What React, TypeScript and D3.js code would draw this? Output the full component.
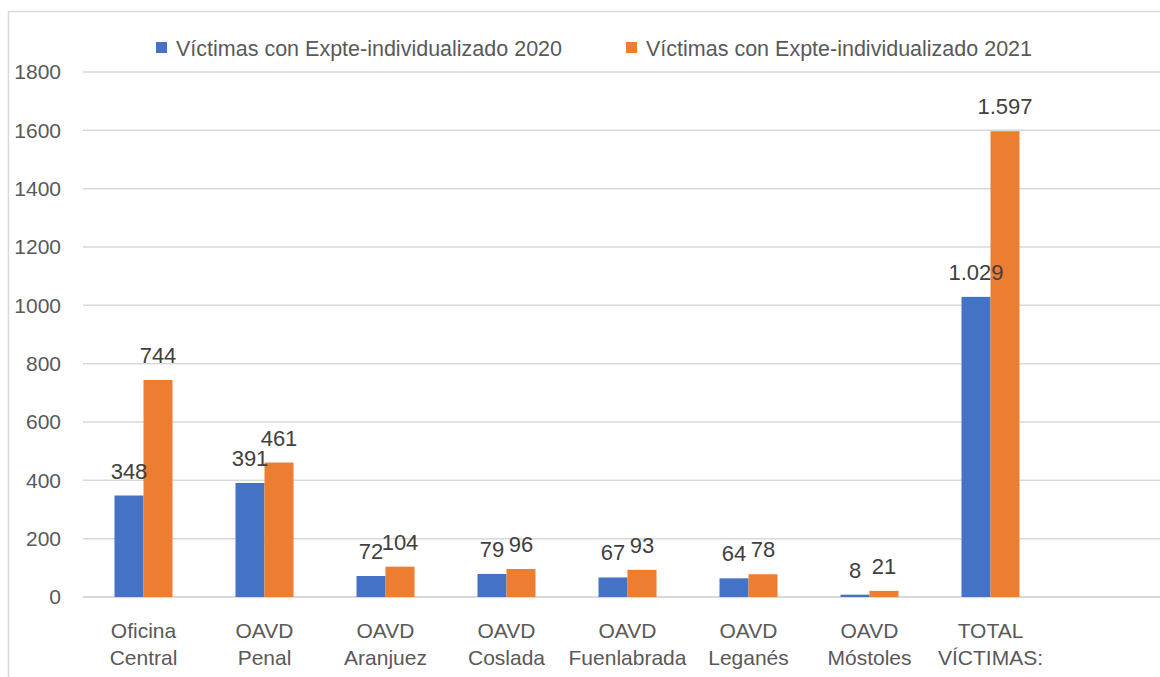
import * as d3 from "d3";

const categories = [
  ["Oficina", "Central"],
  ["OAVD", "Penal"],
  ["OAVD", "Aranjuez"],
  ["OAVD", "Coslada"],
  ["OAVD", "Fuenlabrada"],
  ["OAVD", "Leganés"],
  ["OAVD", "Móstoles"],
  ["TOTAL", "VÍCTIMAS:"],
];
const values2020 = [348, 391, 72, 79, 67, 64, 8, 1029];
const values2021 = [744, 461, 104, 96, 93, 78, 21, 1597];
const seriesNames = [
  "Víctimas con Expte-individualizado 2020",
  "Víctimas con Expte-individualizado 2021",
];
const yTicks = [0, 200, 400, 600, 800, 1000, 1200, 1400, 1600, 1800];

const colors = ["#4472C4", "#ED7D31"];
const font = "'Liberation Sans', Arial, sans-serif";

const esLocale = d3.formatLocale({ decimal: ",", thousands: ".", grouping: [3], currency: ["", "€"] });
const fmt = esLocale.format(",d");

export default function App() {
  const W = 1160;
  const H = 677;
  const plotLeft = 83;
  const band = 121;
  const plotRight = plotLeft + band * (categories.length + 1);

  const x = d3
    .scaleBand<number>()
    .domain(d3.range(categories.length))
    .range([plotLeft, plotLeft + band * categories.length]);
  const barW = 29;

  const y = d3.scaleLinear().domain([0, 1800]).range([597, 72]);

  const series = [values2020, values2021];

  return (
    <svg
      width={W}
      height={H}
      style={{ position: "absolute", left: 0, top: 0, background: "#fff" }}
      fontFamily={font}
    >
      <rect x={8.5} y={11.5} width={1200} height={700} fill="none" stroke="#d9d9d9" strokeWidth={1.5} />

      {/* gridlines + y axis labels */}
      {yTicks.map((t) => (
        <g key={t}>
          <line x1={plotLeft} x2={plotRight} y1={y(t)} y2={y(t)} stroke="#d9d9d9" strokeWidth={t === 0 ? 2 : 1.5} />
          <text x={61} y={y(t)} dy="0.35em" textAnchor="end" fontSize={21} fill="#595959">
            {t}
          </text>
        </g>
      ))}

      {/* bars */}
      {series.map((vals, s) => (
        <g key={s} fill={colors[s]}>
          {vals.map((v, i) => {
            const cx = x(i)! + x.bandwidth() / 2;
            const bx = s === 0 ? cx - barW : cx;
            return <rect key={i} x={bx} y={y(v)} width={barW} height={y(0) - y(v)} />;
          })}
        </g>
      ))}

      {/* value labels */}
      {series.map((vals, s) => (
        <g key={"l" + s}>
          {vals.map((v, i) => {
            const cx = x(i)! + x.bandwidth() / 2;
            const lx = s === 0 ? cx - barW / 2 : cx + barW / 2;
            return (
              <text key={i} x={lx} y={y(v) - 17} textAnchor="middle" fontSize={22} fill="#404040">
                {fmt(v)}
              </text>
            );
          })}
        </g>
      ))}

      {/* x labels */}
      {categories.map((c, i) => {
        const cx = x(i)! + x.bandwidth() / 2;
        return (
          <text key={i} x={cx} textAnchor="middle" fontSize={21} fill="#595959">
            <tspan x={cx} y={638}>{c[0]}</tspan>
            <tspan x={cx} y={665}>{c[1]}</tspan>
          </text>
        );
      })}

      {/* legend */}
      {seriesNames.map((n, s) => {
        const lx = s === 0 ? 156 : 626;
        return (
          <g key={n}>
            <rect x={lx} y={42} width={11} height={11} fill={colors[s]} />
            <text x={lx + 20} y={48} dy="0.35em" fontSize={21.5} fill="#595959">
              {n}
            </text>
          </g>
        );
      })}
    </svg>
  );
}
